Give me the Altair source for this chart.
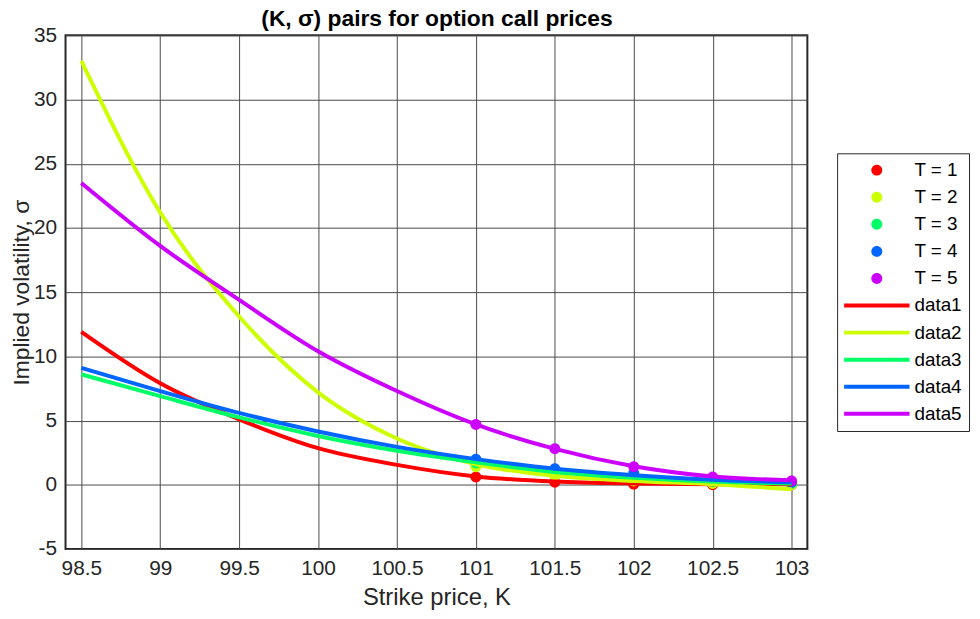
import altair as alt
import pandas as pd

# ---- data ----
K_line = [98.5, 99.0, 99.5, 100.0, 100.5, 101.0, 101.5, 102.0, 102.5, 103.0]
data1 = [11.9, 7.9, 5.1, 2.85, 1.55, 0.65, 0.25, 0.1, 0.05, 0.05]
data2 = [33.0, 21.2, 13.1, 7.2, 3.6, 1.6, 0.7, 0.3, 0.05, -0.35]
data3 = [8.6, 6.9, 5.25, 3.8, 2.65, 1.75, 1.0, 0.55, 0.25, 0.1]
data4 = [9.1, 7.3, 5.6, 4.15, 2.95, 2.0, 1.25, 0.75, 0.4, 0.2]
data5 = [23.5, 18.6, 14.4, 10.4, 7.3, 4.7, 2.8, 1.45, 0.65, 0.35]

K_pts = [101.0, 101.5, 102.0, 102.5, 103.0]
T1 = [0.6, 0.2, 0.05, 0.0, 0.0]
T2 = [1.4, 0.7, 0.3, 0.1, 0.0]
T3 = [1.7, 1.0, 0.55, 0.25, 0.1]
T4 = [2.0, 1.25, 0.9, 0.4, 0.2]
T5 = [4.7, 2.8, 1.4, 0.6, 0.3]

point_labels = ["T = 1", "T = 2", "T = 3", "T = 4", "T = 5"]
line_labels = ["data1", "data2", "data3", "data4", "data5"]
colors = ["#FF0000", "#CCFF00", "#00FF66", "#0066FF", "#CC00FF"]

x_ticks = [98.5, 99, 99.5, 100, 100.5, 101, 101.5, 102, 102.5, 103]
y_ticks = [-5, 0, 5, 10, 15, 20, 25, 30, 35]

title_text = "(K, σ) pairs for option call prices"

# ---- tables ----
line_rows = []
for lab, ser in zip(line_labels, [data1, data2, data3, data4, data5]):
    for k, v in zip(K_line, ser):
        line_rows.append({"label": lab, "K": k, "sigma": v})
lines_df = pd.DataFrame(line_rows)

pt_rows = []
for lab, ser in zip(point_labels, [T1, T2, T3, T4, T5]):
    for k, v in zip(K_pts, ser):
        pt_rows.append({"label": lab, "K": k, "sigma": v})
pts_df = pd.DataFrame(pt_rows)

domain = point_labels + line_labels
# symbol paths in the unit box; drawn at a symbol size whose side is 66 px
line_path = "M-1,-0.06H1V0.06H-1Z"
circle_path = "M-0.167,0A0.167,0.167 0 1,0 0.167,0A0.167,0.167 0 1,0 -0.167,0Z"
SYM = 4356

color_enc = alt.Color("label:N", scale=alt.Scale(domain=domain, range=colors + colors),
                      legend=alt.Legend(title=None))
shape_enc = alt.Shape("label:N", scale=alt.Scale(domain=domain, range=[circle_path] * 5 + [line_path] * 5),
                      legend=alt.Legend(title=None))

x_scale = alt.Scale(domain=[98.4, 103.1], nice=False, zero=False)
x_bottom = alt.X("K:Q", scale=x_scale,
                 axis=alt.Axis(values=x_ticks, labelExpr="'' + datum.value", title="Strike price, K",
                               grid=True, labelPadding=9, titleY=56, titleBaseline="alphabetic"))
# top axis carries the chart title
x_top = alt.X("K:Q", scale=x_scale,
              axis=alt.Axis(orient="top", labels=False, grid=False, title=title_text,
                            titleFontSize=23, titleFontWeight="bold", titleColor="#000000",
                            titleY=-10, titleBaseline="alphabetic"))
y_enc = alt.Y("sigma:Q", scale=alt.Scale(domain=[-5, 35], nice=False, zero=False),
              axis=alt.Axis(values=y_ticks, labelExpr="'' + datum.value", title="Implied volatility, σ",
                            grid=True, labelPadding=9, titleX=-44, titleBaseline="middle",
                            titleFontSize=23))

points = alt.Chart(pts_df).mark_point(filled=True, opacity=1, strokeWidth=0, size=SYM).encode(
    x=x_bottom, y=y_enc, color=color_enc, shape=shape_enc
)

lines = alt.Chart(lines_df).mark_line(strokeWidth=4, interpolate="monotone").encode(
    x=x_top, y=y_enc, color=color_enc
)

chart = alt.layer(points, lines).resolve_axis(x="independent").properties(
    width=748,
    height=518,
    autosize=alt.AutoSizeParams(type="none"),
    padding={"left": 58, "top": 25, "right": 166, "bottom": 60},
).configure_view(
    stroke="#262626", strokeWidth=2
).configure_axis(
    domain=False, ticks=False, grid=True, gridColor="#4a4a4a", gridWidth=1, gridOpacity=1,
    labelFont="Liberation Sans", labelFontSize=21, labelColor="#262626",
    titleFont="Liberation Sans", titleFontSize=24, titleFontWeight="normal", titleColor="#262626",
).configure_legend(
    orient="none", legendX=778, legendY=119,
    strokeColor="#262626", strokeWidth=1, fillColor="#FFFFFF", padding=7,
    labelFont="Liberation Sans", labelFontSize=19, labelColor="#000000", labelOffset=5,
    clipHeight=20, rowPadding=7.3, symbolOpacity=1, symbolStrokeWidth=0, symbolSize=SYM,
)

chart.save("out.html", embed_options={"renderer": "svg", "actions": False})
